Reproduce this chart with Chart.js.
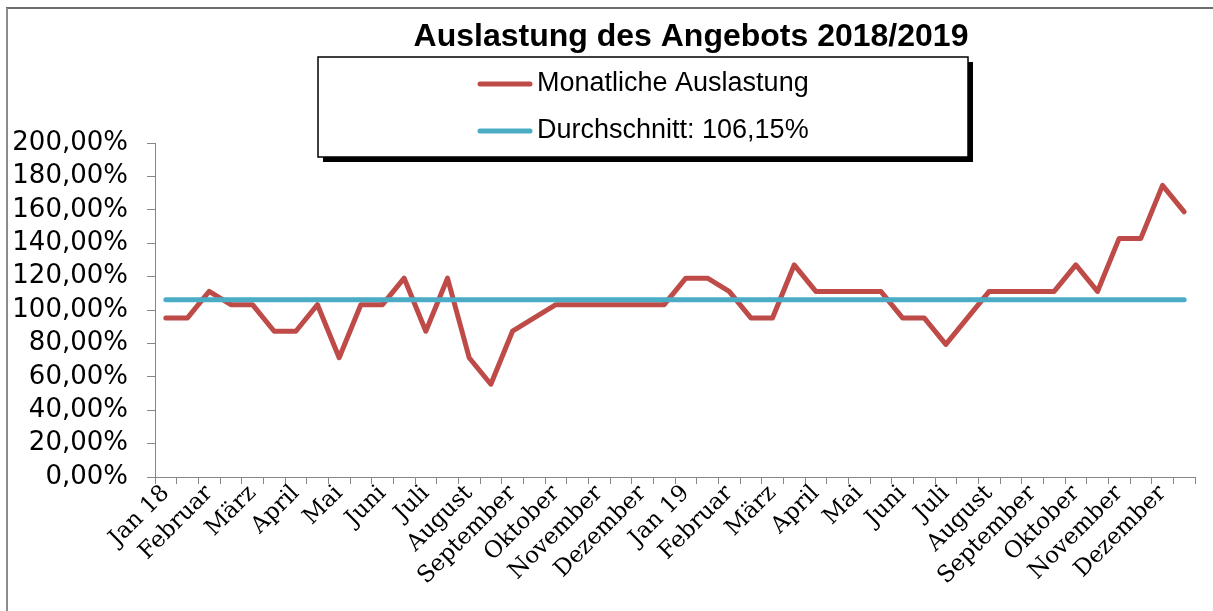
<!DOCTYPE html>
<html>
<head>
<meta charset="utf-8">
<script src="https://cdn.jsdelivr.net/npm/chart.js@4"></script>
<style>
  html, body { margin: 0; padding: 0; background: #fff; }
  #wrap { width: 1213px; height: 611px; position: relative; }
</style>
</head>
<body>
<div id="wrap"><canvas id="auslastungChart"></canvas></div>
<script>
// Monatsnamen als Achsenbeschriftung (jeweils 2 Werte pro Monat)
const monthLabels = ['Jan 18', 'Februar', 'März', 'April', 'Mai', 'Juni', 'Juli', 'August', 'September', 'Oktober', 'November', 'Dezember',
    'Jan 19', 'Februar', 'März', 'April', 'Mai', 'Juni', 'Juli', 'August', 'September', 'Oktober', 'November', 'Dezember'];

const auslastung = [
    95.24, 95.24, 111.11, 103.17, 103.17, 87.30, 87.30, 103.17, 71.43, 103.17, 103.17, 119.05, 87.30, 119.05, 71.43, 55.56,
    87.30, 95.24, 103.17, 103.17, 103.17, 103.17, 103.17, 103.17, 119.05, 119.05, 111.11, 95.24, 95.24, 126.98, 111.11, 111.11,
    111.11, 111.11, 95.24, 95.24, 79.37, 95.24, 111.11, 111.11, 111.11, 111.11, 126.98, 111.11, 142.86, 142.86, 174.60, 158.73
];

const durchschnitt = 106.15;

const yTicks = [0, 20, 40, 60, 80, 100, 120, 140, 160, 180, 200];

const categories = monthLabels.flatMap(m => [m, '']);

const fmtPct = v => v.toFixed(2).replace('.', ',') + '%';

// Rahmen, Titel und Legende wie im Excel-Diagramm
const excelDeko = {
    id: 'excelDeko',
    beforeDraw(chart) {
        const ctx = chart.ctx;
        ctx.save();
        ctx.strokeStyle = '#3c3c3c';
        ctx.lineWidth = 1.5;
        ctx.beginPath();
        ctx.moveTo(6, 8);
        ctx.lineTo(1213, 8);
        ctx.stroke();
        ctx.strokeStyle = '#8c8c8c';
        ctx.lineWidth = 2;
        ctx.beginPath();
        ctx.moveTo(7, 8);
        ctx.lineTo(7, 611);
        ctx.stroke();
        ctx.restore();
    },
    afterDraw(chart) {
        const ctx = chart.ctx;
        ctx.save();
        // Titel
        ctx.fillStyle = '#000';
        ctx.font = 'bold 32px "Liberation Sans", Arial, sans-serif';
        ctx.textAlign = 'center';
        ctx.textBaseline = 'middle';
        ctx.fillText('Auslastung des Angebots 2018/2019', 691, 37);

        // Legende mit Schatten
        const bx = 318, by = 57, bw = 650, bh = 100;
        ctx.fillStyle = '#000';
        ctx.fillRect(bx + 5, by + 5, bw, bh);
        ctx.fillStyle = '#fff';
        ctx.fillRect(bx, by, bw, bh);
        ctx.strokeStyle = '#000';
        ctx.lineWidth = 1.5;
        ctx.strokeRect(bx, by, bw, bh);

        ctx.font = '27px "Liberation Sans", Arial, sans-serif';
        ctx.textAlign = 'left';
        chart.data.datasets.forEach((ds, i) => {
            const y = 84 + i * 47;
            ctx.strokeStyle = ds.borderColor;
            ctx.lineWidth = 5;
            ctx.lineCap = 'round';
            ctx.beginPath();
            ctx.moveTo(480, y);
            ctx.lineTo(530, y);
            ctx.stroke();
            ctx.fillStyle = '#000';
            ctx.fillText(ds.label, 537, y);
        });
        ctx.restore();
    }
};

const ctx = document.getElementById('auslastungChart').getContext('2d');
new Chart(ctx, {
    type: 'line',
    data: {
        labels: categories,
        datasets: [{
            label: 'Monatliche Auslastung',
            data: auslastung,
            borderColor: '#BE4B48',
            borderWidth: 5,
            pointRadius: 0,
            tension: 0,
            borderCapStyle: 'round',
            borderJoinStyle: 'round',
            fill: false,
            order: 2
        }, {
            label: 'Durchschnitt: ' + fmtPct(durchschnitt),
            xAxisID: 'xAvg',
            data: [{ x: 0, y: durchschnitt }, { x: categories.length - 1, y: durchschnitt }],
            borderColor: '#4BACC6',
            borderWidth: 5,
            pointRadius: 0,
            borderCapStyle: 'round',
            fill: false,
            order: 1
        }]
    },
    options: {
        responsive: true,
        maintainAspectRatio: false,
        animation: false,
        layout: { padding: { left: 0, top: 143, right: 18, bottom: 0 } },
        plugins: {
            legend: { display: false },
            title: { display: false },
            tooltip: { enabled: false }
        },
        scales: {
            x: {
                offset: true,
                afterFit: scale => { scale.height = 134; },
                border: { color: '#868686', width: 1 },
                grid: { offset: true, drawOnChartArea: false, tickLength: 7, color: '#868686' },
                ticks: {
                    autoSkip: false,
                    minRotation: 45,
                    maxRotation: 45,
                    padding: -4,
                    color: '#000',
                    font: { family: '"DejaVu Serif", serif', size: 23 }
                }
            },
            // unsichtbare Hilfsachse für die Durchschnittslinie (gleiche Kategoriepositionen)
            xAvg: {
                type: 'linear',
                display: false,
                min: -0.5,
                max: categories.length - 0.5
            },
            y: {
                min: 0,
                max: 200,
                afterFit: scale => { scale.width = 155; },
                afterBuildTicks: scale => { scale.ticks = yTicks.map(v => ({ value: v })); },
                border: { color: '#868686', width: 1 },
                grid: { drawOnChartArea: false, tickLength: 8, color: '#868686' },
                ticks: {
                    autoSkip: false,
                    padding: 19,
                    color: '#000',
                    font: { family: '"DejaVu Sans", sans-serif', size: 26 },
                    callback: v => fmtPct(v)
                }
            }
        }
    },
    plugins: [excelDeko]
});
</script>
</body>
</html>
